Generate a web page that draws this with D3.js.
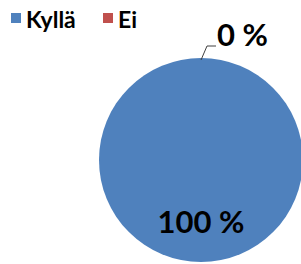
<!DOCTYPE html>
<html><head><meta charset="utf-8">
<script src="https://cdn.jsdelivr.net/npm/d3@7"></script>
<style>html,body{margin:0;padding:0;background:#fff;overflow:hidden}</style>
</head><body>
<svg id="c" width="301" height="264"></svg>
<script>
const categories = ["Kyllä", "Ei"];
const values = [100, 0];
const labels = ["100 %", "0 %"];
const colors = ["#4F81BD", "#C0504D"];

const svg = d3.select("#c");
const font = "Lato, 'Open Sans', sans-serif";
const cx = 201, cy = 160, r = 102;

const pie = d3.pie().sort(null).value(d => d)(values);
const arc = d3.arc().innerRadius(0).outerRadius(r);
const g = svg.append("g").attr("transform", `translate(${cx},${cy})`);
g.selectAll("path").data(pie).enter().append("path")
  .attr("d", arc).attr("fill", (d, i) => colors[i]);

// labels
const inner = d3.arc().innerRadius(r * 0.61).outerRadius(r * 0.61);
pie.forEach((d, i) => {
  if (values[i] > 0) {
    const [x, y] = inner.centroid(d);
    g.append("text").attr("x", x).attr("y", y).attr("dy", "0.35em")
      .attr("text-anchor", "middle").attr("font-family", font)
      .attr("font-weight", "bold").attr("font-size", 31).attr("fill", "#000")
      .text(labels[i]);
  } else {
    const a = d.startAngle;
    const p0 = [Math.sin(a) * (r - 2), -Math.cos(a) * (r - 2)];
    const p1 = [p0[0] + 6, p0[1] - 14];
    const p2 = [p1[0] + 9, p1[1]];
    g.append("path").attr("d", d3.line()([p0, p1, p2]))
      .attr("fill", "none").attr("stroke", "#404040").attr("stroke-width", 1);
    g.append("text").attr("x", p2[0] + 1).attr("y", p2[1])
      .attr("text-anchor", "start").attr("font-family", font)
      .attr("font-weight", "bold").attr("font-size", 31).attr("fill", "#000")
      .text(labels[i]);
  }
});

// legend
const legendX = [11, 103];
categories.forEach((c, i) => {
  svg.append("rect").attr("x", legendX[i]).attr("y", 13).attr("width", 10).attr("height", 10)
    .attr("fill", colors[i]);
  svg.append("text").attr("x", legendX[i] + 15).attr("y", 28)
    .attr("font-family", font).attr("font-weight", "bold").attr("font-size", 23)
    .attr("fill", "#000").text(c);
});
</script>
</body></html>
